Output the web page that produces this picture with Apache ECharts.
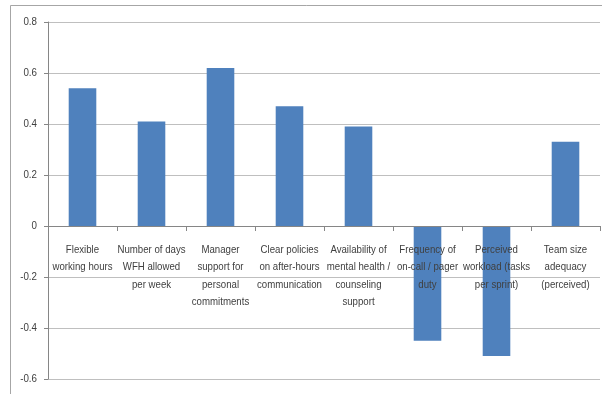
<!DOCTYPE html>
<html>
<head>
<meta charset="utf-8">
<script src="https://cdn.jsdelivr.net/npm/echarts@6/dist/echarts.min.js"></script>
<style>
  html, body { margin: 0; padding: 0; background: #fff; }
  #chart { width: 602px; height: 394px; }
</style>
</head>
<body>
<div id="chart"></div>
<script>
// Workplace factors and their correlation coefficients
const categories = [
  'Flexible\nworking hours',
  'Number of days\nWFH allowed\nper week',
  'Manager\nsupport for\npersonal\ncommitments',
  'Clear policies\non after-hours\ncommunication',
  'Availability of\nmental health /\ncounseling\nsupport',
  'Frequency of\non-call / pager\nduty',
  'Perceived\nworkload (tasks\nper sprint)',
  'Team size\nadequacy\n(perceived)'
];
const values = [0.54, 0.41, 0.62, 0.47, 0.39, -0.45, -0.51, 0.33];
const yTickValues = [0.8, 0.6, 0.4, 0.2, 0, -0.2, -0.4, -0.6];
const yTickLabels = ['0.8', '0.6', '0.4', '0.2', '0', '-0.2', '-0.4', '-0.6'];

const FONT_FAMILY = '"Liberation Sans", Arial, sans-serif';
const TEXT_COLOR = '#404040';
const AXIS_COLOR = '#868686';
const yMin = Math.min.apply(null, yTickValues);
const yMax = Math.max.apply(null, yTickValues);
const yStep = yTickValues[0] - yTickValues[1];

const chart = echarts.init(document.getElementById('chart'), null, { renderer: 'canvas' });

chart.setOption({
  animation: false,
  backgroundColor: '#ffffff',
  grid: {
    left: 48, right: 2, top: 22, bottom: 15,
    containLabel: false,
    outerBoundsMode: 'none'
  },
  xAxis: {
    type: 'category',
    data: categories,
    z: 5,
    axisLine: { onZero: true, lineStyle: { color: AXIS_COLOR, width: 1 } },
    axisTick: { show: true, interval: 0, alignWithLabel: false, length: 5, lineStyle: { color: AXIS_COLOR } },
    // names are drawn as condensed text elements below
    axisLabel: { show: false },
    splitLine: { show: false }
  },
  yAxis: {
    type: 'value',
    min: yMin,
    max: yMax,
    interval: yStep,
    axisLine: { show: true, lineStyle: { color: AXIS_COLOR, width: 1 } },
    axisTick: { show: true, length: 4, lineStyle: { color: AXIS_COLOR } },
    axisLabel: { show: false },
    splitLine: { show: true, lineStyle: { color: '#bfbfbf', width: 1 } }
  },
  series: [{
    type: 'bar',
    data: values,
    barWidth: '40%',
    itemStyle: { color: '#4f81bd' },
    z: 2
  }]
});

// Condensed labels positioned from the axes' own scales
const zeroY = chart.convertToPixel({ yAxisIndex: 0 }, 0);
const x0 = chart.convertToPixel({ xAxisIndex: 0 }, 0);
const x1 = chart.convertToPixel({ xAxisIndex: 0 }, 1);
const axisLeft = x0 - (x1 - x0) / 2;

const categoryLabels = categories.map((name, i) => ({
  type: 'text',
  x: chart.convertToPixel({ xAxisIndex: 0 }, i),
  y: zeroY + 15,
  scaleX: 0.84,
  z: 10,
  silent: true,
  style: {
    text: name, x: 0, y: 0,
    fill: TEXT_COLOR,
    fontFamily: FONT_FAMILY,
    fontSize: 11.5,
    lineHeight: 17.5,
    align: 'center',
    verticalAlign: 'top'
  }
}));

const valueLabels = yTickValues.map((v, i) => ({
  type: 'text',
  x: axisLeft - 11,
  y: chart.convertToPixel({ yAxisIndex: 0 }, v),
  scaleX: 0.85,
  z: 10,
  silent: true,
  style: {
    text: yTickLabels[i], x: 0, y: 0,
    fill: TEXT_COLOR,
    fontFamily: FONT_FAMILY,
    fontSize: 11.5,
    align: 'right',
    verticalAlign: 'middle'
  }
}));

chart.setOption({
  graphic: [{
    type: 'rect',
    shape: { x: 10.5, y: 5.5, width: 700, height: 500 },
    style: { fill: 'none', stroke: '#a6a6a6', lineWidth: 1 },
    silent: true,
    z: -1
  }].concat(categoryLabels, valueLabels)
});
</script>
</body>
</html>
